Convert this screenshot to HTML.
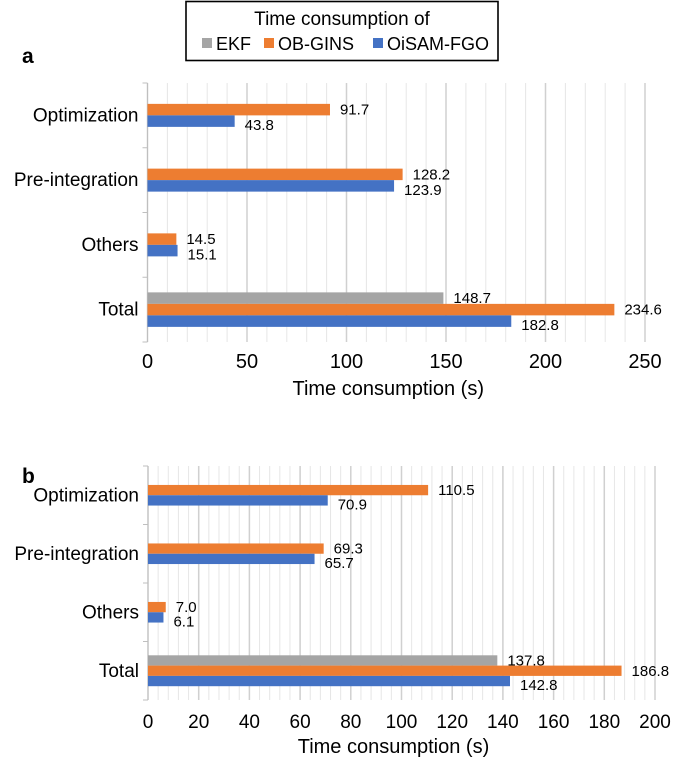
<!DOCTYPE html>
<html><head><meta charset="utf-8"><style>
body{margin:0;background:#fff;font-family:"Liberation Sans",sans-serif}
svg{display:block}
</style></head><body>
<svg id="chart" width="685" height="760" xmlns="http://www.w3.org/2000/svg" font-family="Liberation Sans, sans-serif">
<g>
<rect x="186" y="1.5" width="312" height="59" fill="#fff" stroke="#000" stroke-width="1.6"/>
<text x="342" y="25" text-anchor="middle" font-size="19">Time consumption of</text>
<rect x="202" y="38" width="10" height="10" fill="#a5a5a5"/>
<text x="216" y="50" font-size="18">EKF</text>
<rect x="264" y="38" width="10" height="10" fill="#ed7d31"/>
<text x="278" y="50" font-size="18">OB-GINS</text>
<rect x="373" y="38" width="10" height="10" fill="#4472c4"/>
<text x="387" y="50" font-size="18">OiSAM-FGO</text>
</g>
<text x="22" y="63" font-size="21" font-weight="bold">a</text>
<text x="22" y="483" font-size="21" font-weight="bold">b</text>
</svg>
<script>
const categories = ["Optimization","Pre-integration","Others","Total"];
const aEKF = [null,null,null,148.7];
const aOB = [91.7,128.2,14.5,234.6];
const aOi = [43.8,123.9,15.1,182.8];
const aTicks = [0,50,100,150,200,250];
const bEKF = [null,null,null,137.8];
const bOB = [110.5,69.3,7.0,186.8];
const bOi = [70.9,65.7,6.1,142.8];
const bTicks = [0,20,40,60,80,100,120,140,160,180,200];

const NS="http://www.w3.org/2000/svg";
const svg=document.getElementById('chart');
function mk(tag,attrs,parent){const e=document.createElementNS(NS,tag);for(const k in attrs)e.setAttribute(k,attrs[k]);(parent||svg).appendChild(e);return e;}

function drawPanel(p){
  const g=mk('g',{});
  
  
  const max=p.ticks[p.ticks.length-1];
  const x=v=>p.x0+(p.x1-p.x0)*v/max;
  const band=(p.bottom-p.top)/categories.length;
  for(let v=0;v<=max+1e-9;v+=p.minor){
    const l=mk('line',{x1:x(v),x2:x(v),y1:p.top,y2:p.bottom,stroke:'#e6e6e6','stroke-width':1},g);
    
    
  }
  p.ticks.forEach(t=>{
    const l=mk('line',{x1:x(t),x2:x(t),y1:p.top,y2:p.bottom,stroke:'#d0d0d0','stroke-width':1.5},g);
    
    
    const tx=mk('text',{x:x(t),y:p.tickY,'text-anchor':'middle','font-size':p.tickFs},g);
    tx.textContent=t;
    
    
  });
  const ax=mk('line',{x1:p.x0,x2:p.x0,y1:p.top,y2:p.bottom,stroke:'#bfbfbf','stroke-width':1},g);
  
  
  for(let i=0;i<=categories.length;i++){
    const yy=p.top+band*i;
    const tk=mk('line',{x1:p.x0-5,x2:p.x0,y1:yy,y2:yy,stroke:'#bfbfbf'},g);
    
    
  }
  const series=[[p.ekf,'#a5a5a5','ekf'],[p.ob,'#ed7d31','ob-gins'],[p.oi,'#4472c4','oisam-fgo']];
  categories.forEach((c,i)=>{
    const cy=p.top+band*i+band/2;
    const lab=mk('text',{x:p.x0-9,y:cy+6,'text-anchor':'end','font-size':19},g);
    lab.textContent=c;
    
    
    const present=series.filter(s=>s[0][i]!=null);
    const totalH=present.length*p.bh;
    let y0=cy-totalH/2;
    present.forEach(s=>{
      const v=s[0][i];
      const r=mk('rect',{x:p.x0,y:y0,width:x(v)-p.x0,height:p.bh,fill:s[1]},g);
      
      
      const t=mk('text',{x:x(v)+10,y:y0+p.bh/2+(s[2]==='oisam-fgo'?9:5),'font-size':15},g);
      t.textContent=v.toFixed(1);
      
      
      y0+=p.bh;
    });
  });
  const tt=mk('text',{x:(p.x0+p.x1)/2-8,y:p.titleY,'text-anchor':'middle','font-size':20},g);
  tt.textContent='Time consumption (s)';
  
  
}
drawPanel({name:'panel-a-chart',x0:147.5,x1:645,top:83,bottom:342,bh:11.5,ticks:aTicks,minor:10,ekf:aEKF,ob:aOB,oi:aOi,tickY:368,titleY:395,tickFs:20});
drawPanel({name:'panel-b-chart',x0:148,x1:655,top:466,bottom:700,bh:10.3,ticks:bTicks,minor:4,ekf:bEKF,ob:bOB,oi:bOi,tickY:728,titleY:753,tickFs:19});
</script>
</body></html>
